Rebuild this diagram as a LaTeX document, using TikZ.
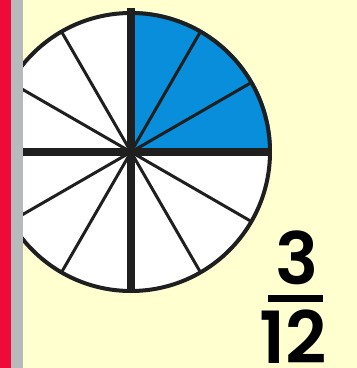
\documentclass[tikz,border=0pt]{standalone}
\usepackage{fontspec}
\setmainfont{Poppins}[BoldFont={Poppins SemiBold}]
\definecolor{paper}{RGB}{255,255,208}
\definecolor{sky}{RGB}{8,142,218}
\definecolor{edgered}{RGB}{240,10,55}
\definecolor{edgegray}{RGB}{182,186,186}
\tikzset{
  spoke/.style={black!88, line width=3pt},
  axis/.style={black!88, line width=8pt},
  digit/.style={inner sep=0pt, font=\fontsize{72}{72}\selectfont\bfseries}
}
\begin{document}
\begin{tikzpicture}[x=1pt,y=1pt]
\useasboundingbox (0,0) rectangle (357,368);
\fill[paper] (0,0) rectangle (357,368);
\coordinate (o) at (131,216);
\fill[white] (o) circle (141);
\fill[sky] (o) -- ++(0:141) arc[start angle=0, end angle=90, radius=141] -- cycle;
\foreach \a in {30,60,120,150,210,240,300,330}
  \draw[spoke] (o) -- ++(\a:140);
\draw[black!88, line width=4pt] (o) circle (139);
\draw[axis] (o) -- ++(0:141);
\draw[axis] (o) -- ++(180:141);
\draw[axis] (o) -- ++(90:144);
\draw[axis] (o) -- ++(270:141);
\fill[edgered] (0,0) rectangle (11,368);
\fill[edgegray] (11,0) rectangle (23,368);
\node[digit] (num) at (297,110) {3};
\node[digit] (den) at (293,31) {12};
\draw[black, line width=7pt] (268,70) -- (323,70);
\end{tikzpicture}
\end{document}
